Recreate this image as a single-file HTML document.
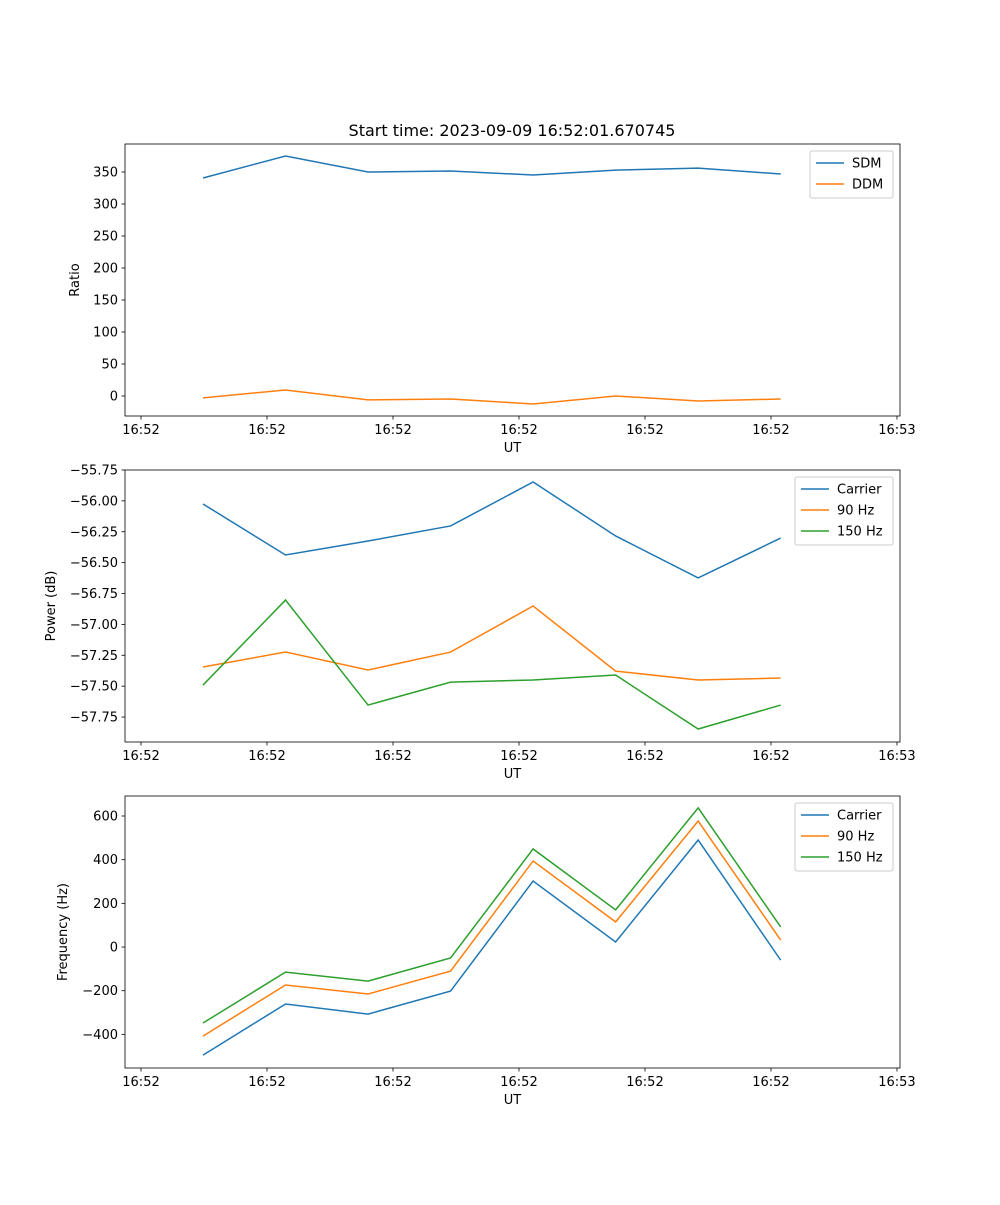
<!DOCTYPE html>
<html><head><meta charset="utf-8"><style>
body{margin:0;background:#fff}
svg text{font-family:"DejaVu Sans","Liberation Sans",sans-serif;font-size:13px;fill:#000}
</style></head><body>
<svg id="fig" width="1000" height="1200" xmlns="http://www.w3.org/2000/svg">
<rect width="1000" height="1200" fill="#fff"/>
<text x="512" y="136" text-anchor="middle" style="font-size:16px">Start time: 2023-09-09 16:52:01.670745</text>
</svg>
<script>
const xTickLabels=["16:52","16:52","16:52","16:52","16:52","16:52","16:53"];
const sdm=[340.6,375,350,351.6,345.3,353,356,346.9];
const ddm=[-3,9.4,-6,-4.7,-12.5,0,-7.8,-4.7];
const pCarrier=[-56.025,-56.438,-56.325,-56.203,-55.847,-56.284,-56.624,-56.301];
const p90=[-57.345,-57.224,-57.369,-57.224,-56.851,-57.378,-57.45,-57.434];
const p150=[-57.491,-56.803,-57.653,-57.467,-57.45,-57.41,-57.847,-57.653];
const fCarrier=[-495,-261,-307,-202,302,23,490,-60];
const f90=[-408,-174,-215,-110,394,115,577,32];
const f150=[-348,-115,-156,-50,449,170,637,92];
const ticks1=[0,50,100,150,200,250,300,350];
const ticks2=[-57.75,-57.5,-57.25,-57,-56.75,-56.5,-56.25,-56,-55.75];
const ticks3=[-400,-200,0,200,400,600];

const NS="http://www.w3.org/2000/svg";
const svg=document.getElementById('fig');
function mk(tag,attrs,parent){const e=document.createElementNS(NS,tag);for(const k in attrs)e.setAttribute(k,attrs[k]);(parent||svg).appendChild(e);return e;}
const L=125,R=900,xmin=-0.127,xmax=6.024;
const xs=t=>L+(t-xmin)/(xmax-xmin)*(R-L);
const tpt=i=>0.492+i*0.655;
const colors=["#1f77b4","#ff7f0e","#2ca02c"];

function panel(name,top,ymin,ymax,ticks,fmt,ylabel,series,labels,legW){
  const bot=top+272;
  const ys=v=>bot-(v-ymin)/(ymax-ymin)*(bot-top);
  const g=mk('g',{});
  
  
  series.forEach((s,k)=>{
    const p=mk('polyline',{points:s.map((v,i)=>xs(tpt(i))+','+ys(v)).join(' '),fill:'none',stroke:colors[k],'stroke-width':1.5},g);
    
    
  });
  const fr=mk('rect',{x:L,y:top,width:R-L,height:272,fill:'none',stroke:'#000','stroke-width':0.8},g);
  
  
  xTickLabels.forEach((lb,i)=>{
    const x=xs(i);
    mk('line',{x1:x,x2:x,y1:bot,y2:bot+3.5,stroke:'#000','stroke-width':0.8},g);
    const t=mk('text',{x:x,y:bot+18,'text-anchor':'middle'},g);t.textContent=lb;
    
    
  });
  ticks.forEach(v=>{
    const y=ys(v);
    mk('line',{x1:L-3.5,x2:L,y1:y,y2:y,stroke:'#000','stroke-width':0.8},g);
    const t=mk('text',{x:L-7,y:y+4.5,'text-anchor':'end'},g);t.textContent=fmt(v);
    
    
  });
  const xl=mk('text',{x:(L+R)/2,y:bot+36,'text-anchor':'middle'},g);xl.textContent='UT';
  
  
  const yx=ylabel[1];
  const yl=mk('text',{x:yx,y:top+136,'text-anchor':'middle',transform:`rotate(-90 ${yx} ${top+136})`},g);yl.textContent=ylabel[0];
  
  
  const lx=R-7-legW, ly=top+7, lh=labels.length*21+5;
  const lg=mk('g',{},g);
  
  
  mk('rect',{x:lx,y:ly,width:legW,height:lh,rx:2,fill:'#fff','fill-opacity':0.8,stroke:'#ccc'},lg);
  labels.forEach((lb,k)=>{
    const yy=ly+12+k*21;
    mk('line',{x1:lx+6,x2:lx+34,y1:yy,y2:yy,stroke:colors[k],'stroke-width':1.5},lg);
    const t=mk('text',{x:lx+42,y:yy+4.5},lg);t.textContent=lb;
    
    
  });
}
panel('ratio',144,-31.25,393.75,ticks1,v=>String(v),['Ratio',79],[sdm,ddm],['SDM','DDM'],83);
panel('power',470,-57.952,-55.75,ticks2,v=>'\u2212'+Math.abs(v).toFixed(2),['Power (dB)',55],[pCarrier,p90,p150],['Carrier','90 Hz','150 Hz'],98);
panel('frequency',796,-554,691.6,ticks3,v=>v<0?'\u2212'+Math.abs(v):String(v),['Frequency (Hz)',67],[fCarrier,f90,f150],['Carrier','90 Hz','150 Hz'],98);
</script>
</body></html>
